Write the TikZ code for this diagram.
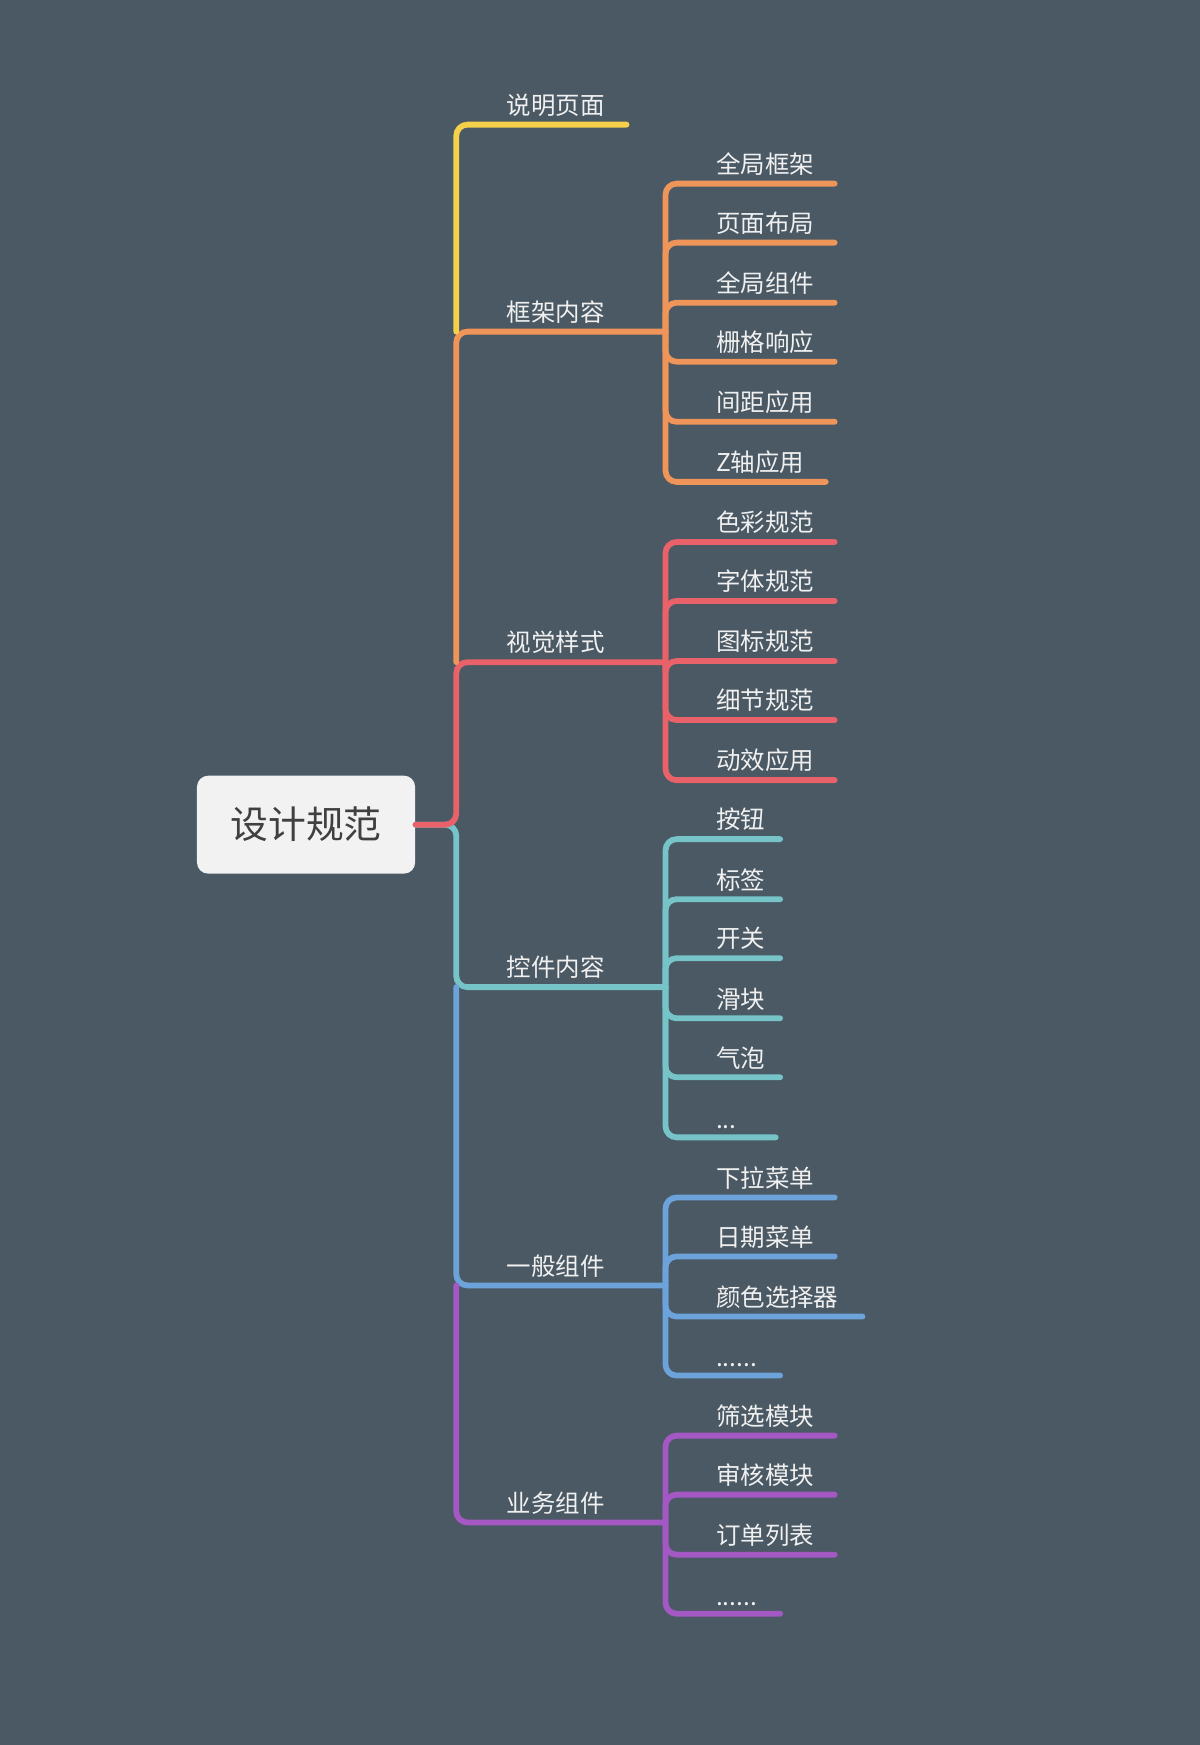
\documentclass[tikz,border=0pt]{standalone}
\usepackage{fontspec}
\newfontfamily\cjk{Noto Sans CJK SC}
\definecolor{bg}{HTML}{4A5964}
\definecolor{cY}{HTML}{F5D04A}
\definecolor{cO}{HTML}{F0955A}
\definecolor{cR}{HTML}{E9626A}
\definecolor{cT}{HTML}{76C4C8}
\definecolor{cB}{HTML}{6CA3DB}
\definecolor{cP}{HTML}{A458C4}
\newcommand{\dotsthree}{...}
\newcommand{\dotssix}{......}
\tikzset{
  branch/.style={line width=2.6pt, rounded corners=5pt, line cap=round},
  lbl/.style={anchor=south west, inner sep=0pt, text=white!94!black, font=\cjk\fontsize{11}{13}\selectfont},
}
\begin{document}
\begin{tikzpicture}[x=0.5pt,y=-0.5pt]
\fill[bg] (0,0) rectangle (1078,1568);
% root
\node[fill=white!95!black, rounded corners=5pt, minimum width=98pt, minimum height=44pt,
  font=\cjk\fontsize{17}{20}\selectfont, text=black!75] (root) at (275,741) {设计规范};
% main trunk
\draw[branch,cT] (root.east) -- (410,741) -- (410,887) -- (598,887);
\draw[branch,cR] (root.east) -- (410,741) -- (410,595) -- (598,595);
\draw[branch,cO] (410,595) -- (410,298) -- (598,298);
\draw[branch,cY] (410,298) -- (410,112) -- (563,112);
\draw[branch,cB] (410,887) -- (410,1155) -- (598,1155);
\draw[branch,cP] (410,1155) -- (410,1368) -- (598,1368);
% first level labels
\foreach \y/\t/\n in {112/说明页面/a, 298/框架内容/b, 595/视觉样式/c, 887/控件内容/d, 1155/一般组件/e, 1368/业务组件/f}
  \node[lbl] (l\n) at (455,\y-7) {\t};
% leaves
\foreach \py/\y/\e/\t/\c in {
  298/165/750/全局框架/cO, 298/218/750/页面布局/cO, 298/272/750/全局组件/cO,
  298/325/750/栅格响应/cO, 298/379/750/间距应用/cO, 298/433/742/Z轴应用/cO,
  595/487/750/色彩规范/cR, 595/540/750/字体规范/cR, 595/594/750/图标规范/cR,
  595/647/750/细节规范/cR, 595/701/750/动效应用/cR,
  887/754/701/按钮/cT, 887/808/701/标签/cT, 887/861/701/开关/cT,
  887/915/701/滑块/cT, 887/968/701/气泡/cT, 887/1022/697/\dotsthree/cT,
  1155/1076/750/下拉菜单/cB, 1155/1129/750/日期菜单/cB, 1155/1183/775/颜色选择器/cB,
  1155/1236/701/\dotssix/cB,
  1368/1290/750/筛选模块/cP, 1368/1343/750/审核模块/cP, 1368/1397/750/订单列表/cP,
  1368/1450/701/\dotssix/cP}{
  \draw[branch,\c] (598,\py) -- (598,\y) -- (\e,\y);
  \node[lbl] (k\y) at (643,\y-7) {\t};
}
\end{tikzpicture}
\end{document}
